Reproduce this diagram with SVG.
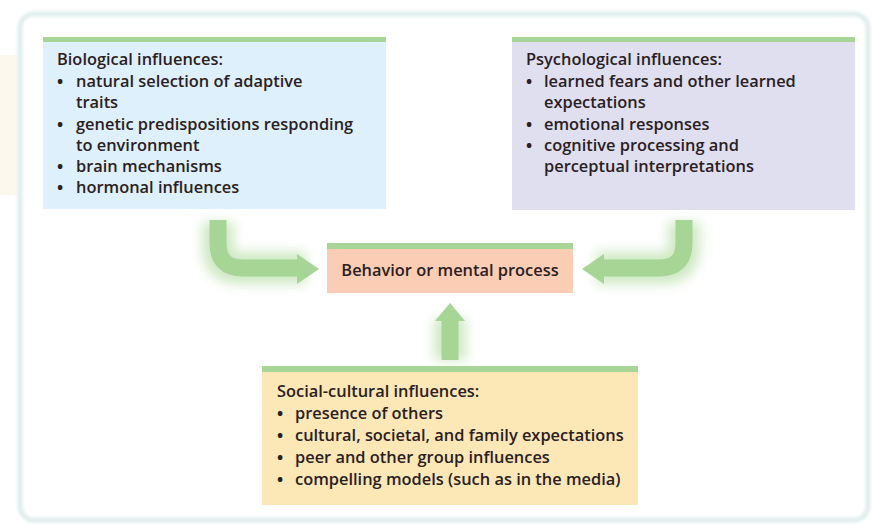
<svg xmlns="http://www.w3.org/2000/svg" width="872" height="527" viewBox="0 0 872 527">
  <defs>
    <style>
      .t { font-family: "Open Sans", "Liberation Sans", sans-serif; font-weight: 600; font-size: 16.4px; fill: #2a2022; }
      .b { font-weight: 700; }
      .bar { fill: #a6d596; }
      .arrow { fill: none; stroke: #a6d596; stroke-width: 17; }
      .head { fill: #a6d596; }
      .glow { fill: none; stroke: #cfe9c4; stroke-width: 32; }
    </style>
    <filter id="soft" x="-30%" y="-30%" width="160%" height="160%">
      <feGaussianBlur stdDeviation="6"/>
    </filter>
    <filter id="frameBlur" x="-5%" y="-5%" width="110%" height="110%">
      <feGaussianBlur stdDeviation="1.5"/>
    </filter>
  </defs>

  <rect width="872" height="527" fill="#ffffff"/>
  <!-- faint tinted strip on the left margin -->
  <rect x="0" y="55" width="17" height="140" fill="#fdf8ee"/>

  <!-- outer frame -->
  <rect x="20" y="14" width="848" height="506" rx="14" fill="none" stroke="#e0eded" stroke-width="5" filter="url(#frameBlur)"/>

  <!-- connectors -->
  <g id="connectors">
    <g filter="url(#soft)">
      <path class="glow" d="M218 222 V248 Q218 268 238 268 H306"/>
      <path class="glow" d="M684 222 V248 Q684 268 664 268 H596"/>
      <path class="glow" d="M450 360 V318"/>
    </g>
    <path class="arrow" d="M218 220 V243 Q218 268 243 268 H300"/>
    <polygon class="head" points="297,254 319,269 297,284"/>
    <path class="arrow" d="M684 220 V243 Q684 268 659 268 H602"/>
    <polygon class="head" points="604,254 582,269 604,284"/>
    <path class="arrow" d="M450 360 V318"/>
    <polygon class="head" points="435,321 450,303 465,321"/>
  </g>

  <!-- Biological influences -->
  <g id="biological">
    <rect x="43" y="37" width="343" height="172" fill="#def0fb"/>
    <rect class="bar" x="43" y="37" width="343" height="5"/>
    <text class="t">
      <tspan x="57" y="65">Biological influences:</tspan>
      <tspan class="b" x="57" y="87">•</tspan><tspan x="76" y="87">natural selection of adaptive</tspan>
      <tspan x="76" y="108">traits</tspan>
      <tspan class="b" x="57" y="130">•</tspan><tspan x="76" y="130">genetic predispositions responding</tspan>
      <tspan x="76" y="151">to environment</tspan>
      <tspan class="b" x="57" y="172">•</tspan><tspan x="76" y="172">brain mechanisms</tspan>
      <tspan class="b" x="57" y="193">•</tspan><tspan x="76" y="193">hormonal influences</tspan>
    </text>
  </g>

  <!-- Psychological influences -->
  <g id="psychological">
    <rect x="512" y="37" width="343" height="173" fill="#dfdff0"/>
    <rect class="bar" x="512" y="37" width="343" height="5"/>
    <text class="t">
      <tspan x="526" y="65">Psychological influences:</tspan>
      <tspan class="b" x="526" y="87">•</tspan><tspan x="544" y="87">learned fears and other learned</tspan>
      <tspan x="544" y="108">expectations</tspan>
      <tspan class="b" x="526" y="130">•</tspan><tspan x="544" y="130">emotional responses</tspan>
      <tspan class="b" x="526" y="151">•</tspan><tspan x="544" y="151">cognitive processing and</tspan>
      <tspan x="544" y="172">perceptual interpretations</tspan>
    </text>
  </g>

  <!-- Behavior or mental process -->
  <g id="behavior">
    <rect x="327" y="243" width="246" height="50" fill="#fbcdb4"/>
    <rect class="bar" x="327" y="243" width="246" height="6"/>
    <text class="t" x="450" y="276" text-anchor="middle">Behavior or mental process</text>
  </g>

  <!-- Social-cultural influences -->
  <g id="social-cultural">
    <rect x="262" y="366" width="376" height="139" fill="#fce8b6"/>
    <rect class="bar" x="262" y="366" width="376" height="6"/>
    <text class="t">
      <tspan x="277" y="397">Social-cultural influences:</tspan>
      <tspan class="b" x="277" y="419">•</tspan><tspan x="295" y="419">presence of others</tspan>
      <tspan class="b" x="277" y="441">•</tspan><tspan x="295" y="441">cultural, societal, and family expectations</tspan>
      <tspan class="b" x="277" y="463">•</tspan><tspan x="295" y="463">peer and other group influences</tspan>
      <tspan class="b" x="277" y="485">•</tspan><tspan x="295" y="485">compelling models (such as in the media)</tspan>
    </text>
  </g>
</svg>
